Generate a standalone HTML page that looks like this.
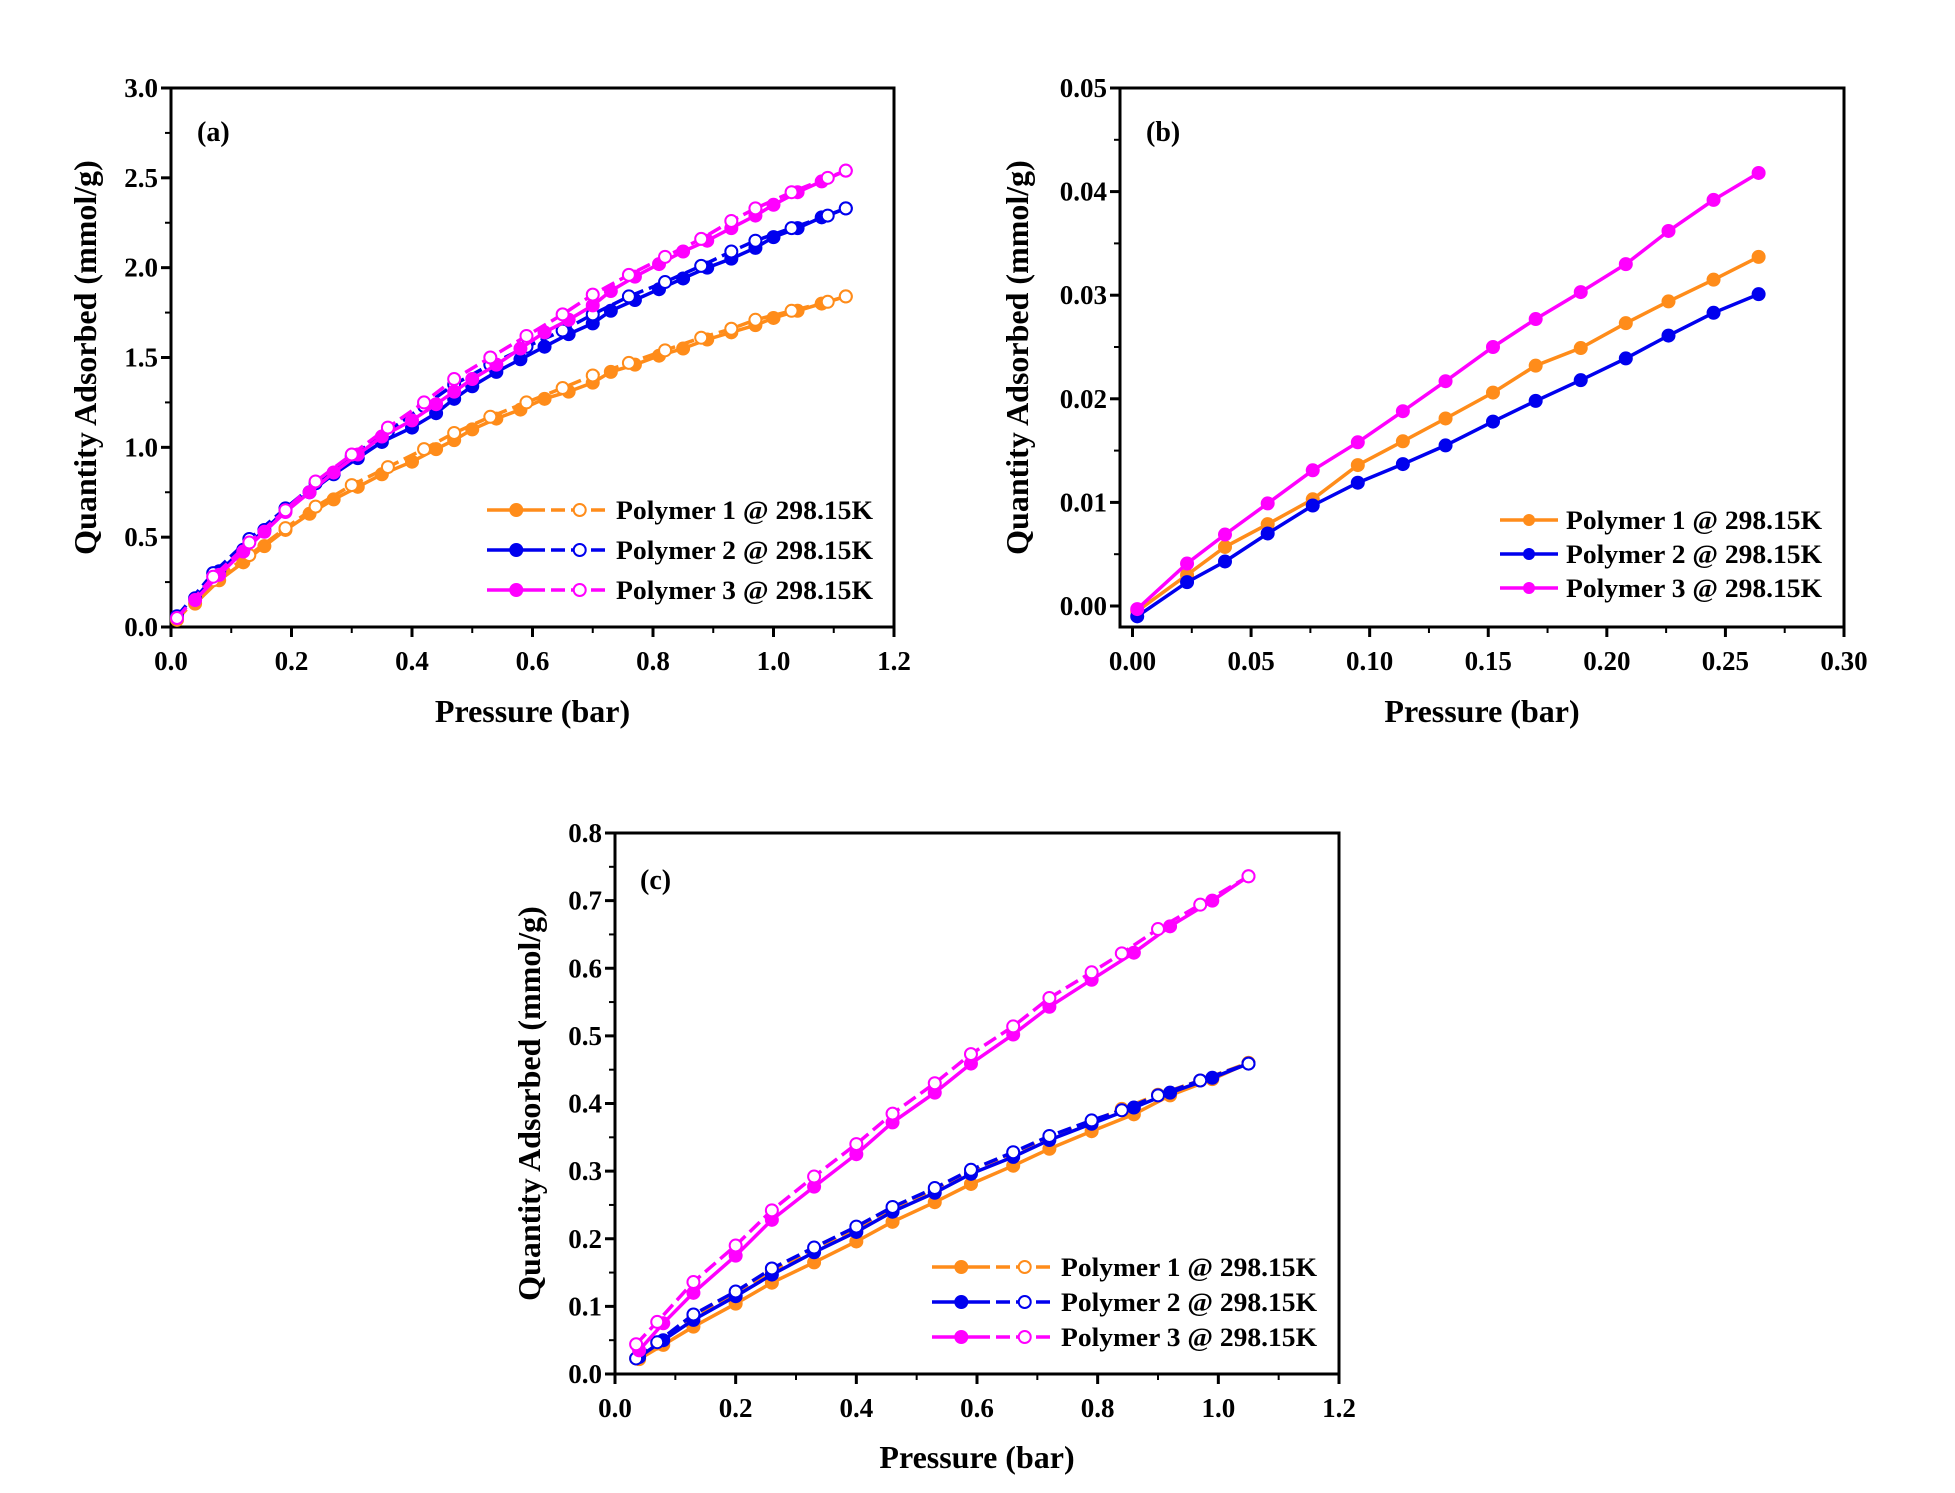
<!DOCTYPE html>
<html><head><meta charset="utf-8"><style>
html,body{margin:0;padding:0;background:#fff}
svg{display:block;font-family:"Liberation Serif",serif;font-weight:bold}
</style></head><body>
<svg id="fig" width="1955" height="1493" viewBox="0 0 1955 1493" xmlns="http://www.w3.org/2000/svg"></svg>
<script>
// Panel (a)
const aAdsX=[0.04,0.08,0.12,0.155,0.19,0.23,0.27,0.31,0.35,0.40,0.44,0.47,0.50,0.54,0.58,0.62,0.66,0.70,0.73,0.77,0.81,0.85,0.89,0.93,0.97,1.00,1.04,1.08,1.12];
const aDesX=[0.01,0.07,0.13,0.19,0.24,0.30,0.36,0.42,0.47,0.53,0.59,0.65,0.70,0.76,0.82,0.88,0.93,0.97,1.03,1.09,1.12];
const aP1Ads=[0.13,0.26,0.36,0.45,0.54,0.63,0.71,0.78,0.85,0.92,0.99,1.04,1.10,1.16,1.21,1.27,1.31,1.36,1.42,1.46,1.51,1.55,1.60,1.64,1.68,1.72,1.76,1.80,1.84];
const aP1Des=[0.04,0.26,0.40,0.55,0.67,0.79,0.89,0.99,1.08,1.17,1.25,1.33,1.40,1.47,1.54,1.61,1.66,1.71,1.76,1.81,1.84];
const aP2Ads=[0.16,0.31,0.43,0.54,0.65,0.75,0.85,0.94,1.03,1.11,1.19,1.27,1.34,1.42,1.49,1.56,1.63,1.69,1.76,1.82,1.88,1.94,2.00,2.05,2.11,2.17,2.22,2.28,2.33];
const aP2Des=[0.06,0.30,0.49,0.66,0.80,0.95,1.09,1.23,1.35,1.46,1.56,1.65,1.74,1.84,1.92,2.01,2.09,2.15,2.22,2.29,2.33];
const aP3Ads=[0.15,0.29,0.42,0.53,0.64,0.75,0.86,0.96,1.06,1.15,1.24,1.31,1.38,1.46,1.55,1.64,1.71,1.79,1.87,1.95,2.02,2.09,2.15,2.22,2.29,2.35,2.42,2.48,2.54];
const aP3Des=[0.05,0.28,0.47,0.65,0.81,0.96,1.11,1.25,1.38,1.50,1.62,1.74,1.85,1.96,2.06,2.16,2.26,2.33,2.42,2.50,2.54];
const aXTicks=["0.0","0.2","0.4","0.6","0.8","1.0","1.2"];
const aYTicks=["0.0","0.5","1.0","1.5","2.0","2.5","3.0"];
// Panel (b)
const bX=[0.002,0.023,0.039,0.057,0.076,0.095,0.114,0.132,0.152,0.170,0.189,0.208,0.226,0.245,0.264];
const bP1=[-0.0005,0.0030,0.0057,0.0079,0.0103,0.0136,0.0159,0.0181,0.0206,0.0232,0.0249,0.0273,0.0294,0.0315,0.0337];
const bP2=[-0.0010,0.0023,0.0043,0.0070,0.0097,0.0119,0.0137,0.0155,0.0178,0.0198,0.0218,0.0239,0.0261,0.0283,0.0301];
const bP3=[-0.0003,0.0041,0.0069,0.0099,0.0131,0.0158,0.0188,0.0217,0.0250,0.0277,0.0303,0.0330,0.0362,0.0392,0.0418];
const bXTicks=["0.00","0.05","0.10","0.15","0.20","0.25","0.30"];
const bYTicks=["0.00","0.01","0.02","0.03","0.04","0.05"];
// Panel (c)
const cAdsX=[0.04,0.08,0.13,0.20,0.26,0.33,0.40,0.46,0.53,0.59,0.66,0.72,0.79,0.86,0.92,0.99,1.05];
const cDesX=[0.035,0.07,0.13,0.20,0.26,0.33,0.40,0.46,0.53,0.59,0.66,0.72,0.79,0.84,0.90,0.97,1.05];
const cP1Ads=[0.022,0.043,0.070,0.104,0.135,0.165,0.196,0.225,0.254,0.281,0.308,0.333,0.359,0.384,0.412,0.436,0.460];
const cP1Des=[0.023,0.045,0.085,0.120,0.152,0.183,0.213,0.243,0.272,0.298,0.325,0.350,0.373,0.392,0.413,0.434,0.460];
const cP2Ads=[0.025,0.050,0.080,0.115,0.147,0.180,0.210,0.240,0.268,0.296,0.321,0.346,0.370,0.394,0.416,0.438,0.459];
const cP2Des=[0.023,0.047,0.088,0.122,0.156,0.187,0.218,0.247,0.275,0.302,0.328,0.352,0.375,0.390,0.412,0.434,0.459];
const cP3Ads=[0.035,0.075,0.120,0.175,0.228,0.277,0.325,0.372,0.416,0.459,0.502,0.543,0.583,0.623,0.662,0.700,0.736];
const cP3Des=[0.044,0.077,0.136,0.190,0.242,0.292,0.340,0.385,0.430,0.473,0.514,0.556,0.594,0.622,0.658,0.694,0.736];
const cXTicks=["0.0","0.2","0.4","0.6","0.8","1.0","1.2"];
const cYTicks=["0.0","0.1","0.2","0.3","0.4","0.5","0.6","0.7","0.8"];

const ORANGE="#ff8c1a",BLUE="#0000ee",MAG="#ff00ff";
const NS="http://www.w3.org/2000/svg";
const svg=document.getElementById('fig');
function el(tag,attrs,parent){const e=document.createElementNS(NS,tag);for(const k in attrs)e.setAttribute(k,attrs[k]);(parent||svg).appendChild(e);return e;}

function panel(cfg){
  const g=el('g',{});
  
  
  const sx=v=>cfg.x0px+(v-cfg.x0)/(cfg.x1-cfg.x0)*(cfg.x1px-cfg.x0px);
  const sy=v=>cfg.y0px-(v-cfg.y0)/(cfg.y1-cfg.y0)*(cfg.y0px-cfg.y1px);
  const box=el('rect',{x:cfg.L,y:cfg.T,width:cfg.R-cfg.L,height:cfg.B-cfg.T,fill:'none',stroke:'#000','stroke-width':3},g);
  
  
  const nx=cfg.xt.length;
  for(let i=0;i<nx;i++){
    const v=cfg.x0+i*(cfg.x1-cfg.x0)/(nx-1);const X=sx(v);
    el('line',{x1:X,y1:cfg.B,x2:X,y2:cfg.B+10,stroke:'#000','stroke-width':3},g);
    if(i<nx-1){const Xm=sx(v+(cfg.x1-cfg.x0)/(nx-1)/2);el('line',{x1:Xm,y1:cfg.B,x2:Xm,y2:cfg.B+6,stroke:'#000','stroke-width':2},g);}
    const t=el('text',{x:X,y:cfg.B+43,'text-anchor':'middle','font-size':27},g);t.textContent=cfg.xt[i];
    
    
  }
  const ny=cfg.yt.length;
  for(let i=0;i<ny;i++){
    const v=cfg.y0+i*(cfg.y1-cfg.y0)/(ny-1);const Y=sy(v);
    el('line',{x1:cfg.L-10,y1:Y,x2:cfg.L,y2:Y,stroke:'#000','stroke-width':3},g);
    if(i<ny-1){const Ym=sy(v+(cfg.y1-cfg.y0)/(ny-1)/2);el('line',{x1:cfg.L-6,y1:Ym,x2:cfg.L,y2:Ym,stroke:'#000','stroke-width':2},g);}
    const t=el('text',{x:cfg.L-13,y:Y+9,'text-anchor':'end','font-size':27},g);t.textContent=cfg.yt[i];
    
    
  }
  const xt=el('text',{x:(cfg.L+cfg.R)/2,y:cfg.xTitleY,'text-anchor':'middle','font-size':32},g);xt.textContent='Pressure (bar)';
  
  
  const yc=(cfg.T+cfg.B)/2;
  const yt=el('text',{x:cfg.yTitleX,y:yc,'text-anchor':'middle','font-size':32,transform:`rotate(-90 ${cfg.yTitleX} ${yc})`},g);yt.textContent='Quantity Adsorbed (mmol/g)';
  
  
  const lab=el('text',{x:cfg.labX,y:cfg.labY,'font-size':28},g);lab.textContent='('+cfg.id+')';
  
  
  cfg.series.forEach(s=>{
    const pts=s.x.map((xv,i)=>sx(xv).toFixed(1)+','+sy(s.y[i]).toFixed(1)).join(' ');
    const pl=el('polyline',{points:pts,fill:'none',stroke:s.c,'stroke-width':3.5,'stroke-dasharray':s.dash?'14 6':'none'},g);
    
    
    s.x.forEach((xv,i)=>{
      const c=el('circle',{cx:sx(xv),cy:sy(s.y[i]),r:6,fill:s.open?'#fff':s.c,stroke:s.c,'stroke-width':2},g);
      
      
    });
  });
  cfg.legend.forEach((L,i)=>{
    const Y=cfg.legY+i*cfg.legDY;
    const lg=el('g',{},g);
    
    
    if(cfg.legOpen){
      const mid=(cfg.legX0+cfg.legX1)/2;
      el('line',{x1:cfg.legX0,y1:Y,x2:mid-3,y2:Y,stroke:L.c,'stroke-width':3.5},lg);
      el('line',{x1:mid+3,y1:Y,x2:cfg.legX1,y2:Y,stroke:L.c,'stroke-width':3.5,'stroke-dasharray':'14 6'},lg);
      el('circle',{cx:cfg.legX0+(cfg.legX1-cfg.legX0)*0.24,cy:Y,r:6,fill:L.c,stroke:L.c,'stroke-width':2},lg);
      el('circle',{cx:cfg.legX0+(cfg.legX1-cfg.legX0)*0.76,cy:Y,r:6,fill:'#fff',stroke:L.c,'stroke-width':2},lg);
    } else {
      el('line',{x1:cfg.legX0,y1:Y,x2:cfg.legX1,y2:Y,stroke:L.c,'stroke-width':3.5},lg);
      el('circle',{cx:(cfg.legX0+cfg.legX1)/2,cy:Y,r:6,fill:L.c},lg);
    }
    const t=el('text',{x:cfg.legTX,y:Y+9,'font-size':26,textLength:cfg.legTW,lengthAdjust:'spacingAndGlyphs'},lg);
    t.textContent=L.t;
  });
}

const legs=[{c:ORANGE,t:'Polymer 1 @ 298.15K'},{c:BLUE,t:'Polymer 2 @ 298.15K'},{c:MAG,t:'Polymer 3 @ 298.15K'}];

panel({id:'a',L:171,R:894,T:88,B:627,x0:0,x1:1.2,x0px:171,x1px:894,y0:0,y1:3,y0px:627,y1px:88,
  xt:aXTicks,yt:aYTicks,xTitleY:722,yTitleX:96,labX:197,labY:141,
  series:[
    {name:'polymer1-adsorption',x:aAdsX,y:aP1Ads,c:ORANGE},{name:'polymer1-desorption',x:aDesX,y:aP1Des,c:ORANGE,dash:1,open:1},
    {name:'polymer2-adsorption',x:aAdsX,y:aP2Ads,c:BLUE},{name:'polymer2-desorption',x:aDesX,y:aP2Des,c:BLUE,dash:1,open:1},
    {name:'polymer3-adsorption',x:aAdsX,y:aP3Ads,c:MAG},{name:'polymer3-desorption',x:aDesX,y:aP3Des,c:MAG,dash:1,open:1}],
  legend:legs,legOpen:1,legX0:487,legX1:609,legTX:616,legTW:257,legY:510,legDY:40});

panel({id:'b',L:1120,R:1844,T:88,B:627,x0:0,x1:0.30,x0px:1132.5,x1px:1844,y0:0,y1:0.05,y0px:606,y1px:88,
  xt:bXTicks,yt:bYTicks,xTitleY:722,yTitleX:1028,labX:1146,labY:141,
  series:[{name:'polymer1',x:bX,y:bP1,c:ORANGE},{name:'polymer2',x:bX,y:bP2,c:BLUE},{name:'polymer3',x:bX,y:bP3,c:MAG}],
  legend:legs,legOpen:0,legX0:1500,legX1:1558,legTX:1566,legTW:256,legY:520,legDY:34});

panel({id:'c',L:615,R:1339,T:833,B:1374,x0:0,x1:1.2,x0px:615,x1px:1339,y0:0,y1:0.8,y0px:1374,y1px:833,
  xt:cXTicks,yt:cYTicks,xTitleY:1468,yTitleX:540,labX:640,labY:889,
  series:[
    {name:'polymer1-adsorption',x:cAdsX,y:cP1Ads,c:ORANGE},{name:'polymer1-desorption',x:cDesX,y:cP1Des,c:ORANGE,dash:1,open:1},
    {name:'polymer2-adsorption',x:cAdsX,y:cP2Ads,c:BLUE},{name:'polymer2-desorption',x:cDesX,y:cP2Des,c:BLUE,dash:1,open:1},
    {name:'polymer3-adsorption',x:cAdsX,y:cP3Ads,c:MAG},{name:'polymer3-desorption',x:cDesX,y:cP3Des,c:MAG,dash:1,open:1}],
  legend:legs,legOpen:1,legX0:932,legX1:1054,legTX:1061,legTW:256,legY:1267,legDY:35});
</script>
</body></html>
